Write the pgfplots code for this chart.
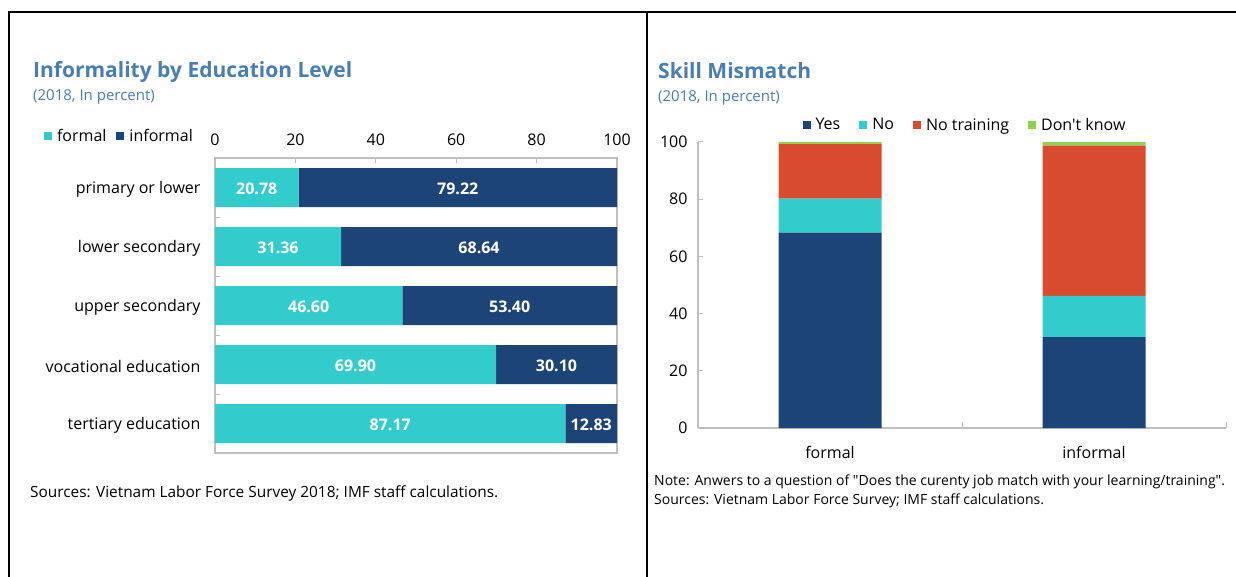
\documentclass[border=0pt]{standalone}
\usepackage{fontspec}
\setmainfont{Open Sans}
\newfontfamily\plain{Open Sans}
\usepackage{pgfplots}
\pgfplotsset{compat=1.18}
\definecolor{navy}{HTML}{1C4476}
\definecolor{cyan2}{HTML}{33CCCC}
\definecolor{red2}{HTML}{D84B2F}
\definecolor{green2}{HTML}{92D050}
\definecolor{ttl}{HTML}{4A7EB0}
\definecolor{axgray}{HTML}{BFBFBF}
\newcommand{\fs}[1]{\fontsize{#1pt}{#1pt}\selectfont}
\pgfplotsset{sqleg/.style={legend image code/.code={\fill[##1] (0pt,-4pt) rectangle (8pt,4pt); \path (0pt,0pt) -- (11pt,0pt);}}}
\begin{document}
\begin{tikzpicture}[x=1pt,y=1pt]
\useasboundingbox (0,0) rectangle (1236,-577);
\fill[white] (0,0) rectangle (1236,-577);
\draw[line width=2pt] (9,-577) -- (9,-12) -- (1236,-12);
\draw[line width=2pt] (647,-12) -- (647,-577);
\node[anchor=base west, inner sep=0, text=ttl, font=\bfseries\fs{21}] at (33,-78) {Informality by Education Level};
\node[anchor=base west, inner sep=0, text=ttl, font=\fs{15}] at (33,-101) {(2018, In percent)};
\node[anchor=base west, inner sep=0, text=ttl, font=\bfseries\fs{21}] at (658,-79) {Skill Mismatch};
\node[anchor=base west, inner sep=0, text=ttl, font=\fs{15}] at (658,-102) {(2018, In percent)};
\node[anchor=base west, inner sep=0, font=\fs{15.4}] at (30,-497) {Sources: Vietnam Labor Force Survey 2018; IMF staff calculations.};
\node[anchor=base west, inner sep=0, font=\plain\fs{14}] at (654,-485) {Note: Anwers to a question of "Does the curenty job match with your learning/training".};
\node[anchor=base west, inner sep=0, font=\fs{14}] at (654,-504) {Sources: Vietnam Labor Force Survey; IMF staff calculations.};

\begin{axis}[
  at={(215pt,-158pt)}, anchor=north west, scale only axis,
  width=402pt, height=295pt,
  xbar stacked, bar width=39pt,
  xmin=0, xmax=100, ymin=-0.5, ymax=4.5, y dir=reverse,
  xtick={0,20,...,100}, xtick pos=right, xticklabel pos=right,
  /pgf/number format/assume math mode=true,
  ytick={0,...,4},
  yticklabels={primary or lower, lower secondary, upper secondary, vocational education, tertiary education},
  ytick pos=left, minor ytick={0.5,1.5,2.5,3.5},
  major y tick style={draw=none},
  tick align=inside, major tick length=5pt, minor tick length=5pt,
  axis line style={axgray, line width=1.2pt},
  tick style={axgray, line width=1pt},
  xticklabel style={font=\fs{16}, yshift=9pt},
  yticklabel style={font=\fs{16}, xshift=-11pt, yshift=-2pt},
  legend columns=2,
  legend style={at={(0,1)}, anchor=east, xshift=-17pt, yshift=22pt, draw=none, fill=none,
    font=\fs{16}, /tikz/every even column/.append style={column sep=8pt}},
]
\addplot[fill=cyan2, draw=none, sqleg] coordinates {(20.78,0) (31.36,1) (46.60,2) (69.90,3) (87.17,4)};
\addplot[fill=navy, draw=none, sqleg] coordinates {(79.22,0) (68.64,1) (53.40,2) (30.10,3) (12.83,4)};
\legend{formal, informal}
\end{axis}
\begin{axis}[
  at={(215pt,-158pt)}, anchor=north west, scale only axis,
  width=402pt, height=295pt, hide axis,
  xmin=0, xmax=100, ymin=-0.5, ymax=4.5, y dir=reverse,
]
\addplot[only marks, mark=none, nodes near coords, point meta=explicit symbolic,
  nodes near coords style={anchor=center, yshift=-1.5pt, text=white, font=\bfseries\fs{16}}]
  table[meta=lab] {
x y lab
10.39 0 20.78
60.39 0 79.22
15.68 1 31.36
65.68 1 68.64
23.30 2 46.60
73.30 2 53.40
34.95 3 69.90
84.95 3 30.10
43.585 4 87.17
93.585 4 12.83
};
\end{axis}

\begin{axis}[
  at={(698pt,-428pt)}, anchor=south west, scale only axis,
  width=528pt, height=286pt,
  ybar stacked, bar width=103pt,
  ymin=0, ymax=100, xmin=-0.5, xmax=1.5,
  axis x line*=bottom, axis y line*=left,
  axis line style={-, axgray, line width=1.2pt},
  tick style={axgray, line width=1pt},
  /pgf/number format/assume math mode=true,
  ytick={0,20,...,100}, xtick={0,1}, xticklabels={formal,informal},
  minor xtick={0.5,1.5}, major x tick style={draw=none},
  tick align=inside, major tick length=5pt, minor tick length=6pt,
  xticklabel style={font=\fs{16}, yshift=-15pt},
  yticklabel style={font=\fs{16}, xshift=-7pt},
  legend columns=4,
  legend style={at={(0.5,1)}, anchor=south, xshift=3pt, yshift=6pt, draw=none, fill=none,
    font=\plain\fs{16}, /tikz/every even column/.append style={column sep=17pt}},
]
\addplot[fill=navy, draw=none, sqleg] coordinates {(0,68.3) (1,31.8)};
\addplot[fill=cyan2, draw=none, sqleg] coordinates {(0,11.9) (1,14.4)};
\addplot[fill=red2, draw=none, sqleg] coordinates {(0,19.1) (1,52.5)};
\addplot[fill=green2, draw=none, sqleg] coordinates {(0,0.7) (1,1.3)};
\legend{Yes, No, No training, Don't know}
\end{axis}
\end{tikzpicture}
\end{document}
